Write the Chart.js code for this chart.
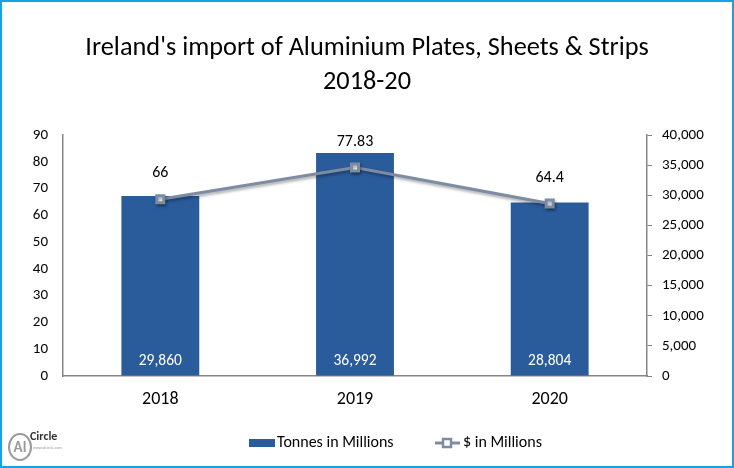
<!DOCTYPE html>
<html>
<head>
<meta charset="utf-8">
<script src="https://cdn.jsdelivr.net/npm/chart.js@4/dist/chart.umd.min.js"></script>
<style>
html,body{margin:0;padding:0;background:#fff;}
#wrap{width:734px;height:468px;position:relative;}
canvas{display:block;}
</style>
</head>
<body>
<div id="wrap"><canvas id="c" width="734" height="468"></canvas></div>
<script>
const categories = ['2018', '2019', '2020'];
const tonnesValues = [29860, 36992, 28804];
const dollarValues = [66, 77.83, 64.4];
const titleLines = ["Ireland's import of Aluminium Plates, Sheets & Strips", '2018-20'];
const seriesNames = ['Tonnes in Millions', '$ in Millions'];

const FONT = 'Carlito, Lato, "Open Sans", sans-serif';
const BAR_COLOR = '#2a5b9b';
const LINE_COLOR = '#7d8ca3';
const AXIS_COLOR = '#868686';

const fmt = v => Number(v).toLocaleString('en-US');

const decor = {
  id: 'decor',
  beforeDatasetDraw(chart, args) {
    if (args.index === 1) {
      const ctx = chart.ctx;
      ctx.save();
      ctx.shadowColor = 'rgba(0,0,0,0.35)';
      ctx.shadowBlur = 3;
      ctx.shadowOffsetX = 1;
      ctx.shadowOffsetY = 2;
    }
  },
  afterDatasetDraw(chart, args) {
    if (args.index === 1) chart.ctx.restore();
  },
  afterDatasetsDraw(chart) {
    const ctx = chart.ctx;
    ctx.save();
    ctx.textAlign = 'center';
    ctx.textBaseline = 'middle';
    const barMeta = chart.getDatasetMeta(0);
    ctx.font = '15.5px ' + FONT;
    ctx.fillStyle = '#ffffff';
    barMeta.data.forEach((el, i) => {
      ctx.fillText(fmt(tonnesValues[i]), el.x, el.base - 14);
    });
    const lineMeta = chart.getDatasetMeta(1);
    ctx.font = '16px ' + FONT;
    ctx.fillStyle = '#000000';
    lineMeta.data.forEach((el, i) => {
      ctx.fillText(String(dollarValues[i]), el.x, el.y - 26);
    });
    ctx.restore();
  },
  afterDraw(chart) {
    const ctx = chart.ctx;
    const W = chart.width, H = chart.height;
    ctx.save();
    ctx.fillStyle = '#000';
    ctx.textAlign = 'center';
    ctx.textBaseline = 'middle';
    ctx.font = '26.3px ' + FONT;
    ctx.fillText(titleLines[0], W / 2, 48);
    ctx.fillText(titleLines[1], W / 2, 82);
    // legend
    ctx.textAlign = 'left';
    ctx.font = '16px ' + FONT;
    ctx.fillStyle = BAR_COLOR;
    ctx.fillRect(249, 439, 26, 8);
    ctx.fillStyle = '#000';
    ctx.fillText(seriesNames[0], 277, 443);
    ctx.strokeStyle = LINE_COLOR;
    ctx.lineWidth = 3;
    ctx.beginPath(); ctx.moveTo(435, 443); ctx.lineTo(460, 443); ctx.stroke();
    ctx.fillStyle = '#fff';
    ctx.lineWidth = 2.5;
    ctx.fillRect(443, 439, 8, 8);
    ctx.strokeRect(443, 439, 8, 8);
    ctx.fillStyle = '#000';
    ctx.fillText(seriesNames[1], 463, 443);
    // logo
    ctx.strokeStyle = '#9a9a9a';
    ctx.lineWidth = 2;
    ctx.beginPath(); ctx.ellipse(20, 447, 11, 13, 0, 0, Math.PI * 2); ctx.stroke();
    ctx.fillStyle = '#9a9a9a';
    ctx.font = 'bold 15px ' + FONT;
    ctx.textAlign = 'center';
    ctx.fillText('Al', 20, 448);
    ctx.fillStyle = '#333';
    ctx.font = 'bold 12px ' + FONT;
    ctx.textAlign = 'left';
    ctx.fillText('Circle', 30, 437);
    ctx.fillStyle = '#999';
    ctx.font = '4px ' + FONT;
    ctx.fillText('www.alcircle.com', 33, 448);
    // border
    ctx.strokeStyle = '#14a3e3';
    ctx.lineWidth = 2;
    ctx.strokeRect(1, 1, W - 2, H - 2);
    ctx.restore();
  }
};

new Chart(document.getElementById('c'), {
  data: {
    labels: categories,
    datasets: [
      {
        type: 'bar',
        label: seriesNames[0],
        data: tonnesValues,
        yAxisID: 'yR',
        backgroundColor: BAR_COLOR,
        barPercentage: 0.8,
        categoryPercentage: 0.5,
        order: 2
      },
      {
        type: 'line',
        label: seriesNames[1],
        data: dollarValues,
        yAxisID: 'yL',
        borderColor: LINE_COLOR,
        borderWidth: 3,
        pointStyle: 'rect',
        pointRadius: 5,
        pointBorderWidth: 3,
        pointBackgroundColor: '#ffffff',
        pointBorderColor: LINE_COLOR,
        tension: 0,
        order: 1
      }
    ]
  },
  options: {
    responsive: false,
    animation: false,
    devicePixelRatio: 1,
    layout: { padding: { top: 135, left: 0, right: 0, bottom: 0 } },
    plugins: {
      legend: { display: false },
      title: { display: false },
      tooltip: { enabled: false }
    },
    scales: {
      x: {
        grid: { display: false, drawTicks: false },
        border: { display: true, color: AXIS_COLOR, width: 1.5 },
        ticks: { color: '#000', font: { family: FONT, size: 18 }, padding: 13 },
        afterFit: s => { s.height = 92; }
      },
      yL: {
        position: 'left',
        min: 0, max: 90,
        grid: { display: true, drawOnChartArea: false, drawTicks: false },
        border: { display: true, color: AXIS_COLOR, width: 1.5 },
        ticks: { stepSize: 10, color: '#000', font: { family: FONT, size: 15 }, padding: 15 },
        afterFit: s => { s.width = 63; }
      },
      yR: {
        position: 'right',
        min: 0, max: 40000,
        grid: { display: true, drawOnChartArea: false, drawTicks: true, tickLength: 5, color: AXIS_COLOR },
        border: { display: true, color: AXIS_COLOR, width: 1.5 },
        ticks: { stepSize: 5000, color: '#000', font: { family: FONT, size: 15 }, padding: 10, callback: v => fmt(v) },
        afterFit: s => { s.width = 87; }
      }
    }
  },
  plugins: [decor]
});
</script>
</body>
</html>
